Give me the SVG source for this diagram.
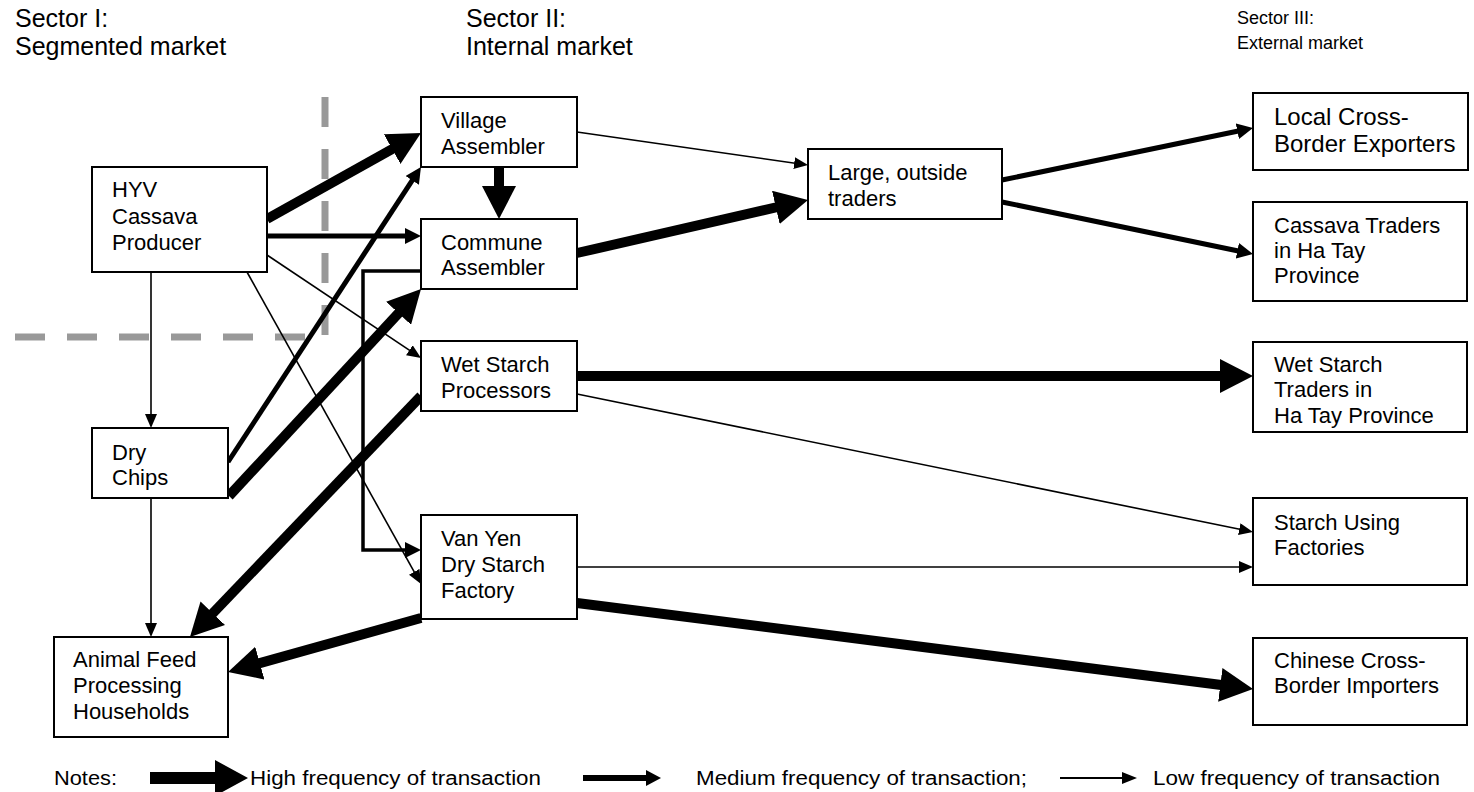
<svg xmlns="http://www.w3.org/2000/svg" width="1474" height="792" viewBox="0 0 1474 792">
<style>
.box{fill:#fff;stroke:#000;stroke-width:2}
.t{font-family:"Liberation Sans",Arial,Helvetica,sans-serif;font-size:22px;fill:#000}
.hdr{font-family:"Liberation Sans",Arial,Helvetica,sans-serif;font-size:25px;fill:#000}
.hdr3{font-family:"Liberation Sans",Arial,Helvetica,sans-serif;font-size:18px;fill:#000}
.leg{font-family:"Liberation Sans",Arial,Helvetica,sans-serif;font-size:20px;fill:#000}
.hi{stroke:#000;stroke-width:10;fill:none;marker-end:url(#hT)}
.md{stroke:#000;stroke-width:5;fill:none;marker-end:url(#hM)}
.lo{stroke:#000;stroke-width:1.6;fill:none;marker-end:url(#hL)}
.dash{stroke:#999;stroke-width:7;fill:none;stroke-dasharray:30 22}
</style>
<defs>
<marker id="hT" markerUnits="userSpaceOnUse" viewBox="0 0 33 34" markerWidth="33" markerHeight="34" refX="13" refY="17" orient="auto"><path d="M0,0 L33,17 L0,34 z" fill="#000"/></marker>
<marker id="hM" markerUnits="userSpaceOnUse" viewBox="0 0 16 16" markerWidth="16" markerHeight="16" refX="6" refY="8" orient="auto"><path d="M0,0 L16,8 L0,16 z" fill="#000"/></marker>
<marker id="hL" markerUnits="userSpaceOnUse" viewBox="0 0 14 12" markerWidth="14" markerHeight="12" refX="8" refY="6" orient="auto"><path d="M0,0 L14,6 L0,12 z" fill="#000"/></marker>
</defs>
<rect width="1474" height="792" fill="#fff"/>

<g id="headers">
<text class="hdr" x="15" y="27">Sector I:</text>
<text class="hdr" x="15" y="55">Segmented market</text>
<text class="hdr" x="466" y="27">Sector II:</text>
<text class="hdr" x="466" y="55">Internal market</text>
<text class="hdr3" x="1237" y="24">Sector III:</text>
<text class="hdr3" x="1237" y="49">External market</text>
</g>

<g id="dividers">
<path class="dash" d="M325,97 V337"/>
<path class="dash" d="M15,337 H325"/>
</g>

<g id="connectors">
<!-- thin -->
<line class="lo" x1="151" y1="272" x2="151" y2="422"/>
<line class="lo" x1="151" y1="498" x2="151" y2="631"/>
<line class="lo" x1="267" y1="255" x2="416" y2="354.7"/>
<line class="lo" x1="247" y1="272" x2="418.1" y2="578.8"/>
<line class="lo" x1="577" y1="132" x2="802.1" y2="164.2"/>
<line class="lo" x1="577" y1="394" x2="1247.1" y2="530.8"/>
<line class="lo" x1="577" y1="567" x2="1247" y2="567"/>
<!-- medium -->
<line class="md" x1="267" y1="236" x2="411" y2="236"/>
<line class="md" x1="228" y1="462" x2="415.5" y2="175.4"/>
<line class="md" x1="1002" y1="180" x2="1243.2" y2="130"/>
<line class="md" x1="1002" y1="202" x2="1243.2" y2="252"/>
<path class="md" style="stroke-width:3.5" d="M421,271 H363 V550 H411"/>
<!-- high -->
<line class="hi" x1="267" y1="219" x2="403.5" y2="142.75"/>
<line class="hi" x1="499" y1="167" x2="499" y2="199"/>
<line class="hi" x1="577" y1="253" x2="788.5" y2="204.5"/>
<line class="hi" x1="229" y1="496" x2="407.4" y2="303.7"/>
<line class="hi" x1="421" y1="396" x2="203.8" y2="622.6"/>
<line class="hi" x1="421" y1="618" x2="247.3" y2="666.6"/>
<line class="hi" x1="577" y1="376" x2="1233" y2="376"/>
<line class="hi" x1="577" y1="603" x2="1233.2" y2="686.5"/>
</g>

<g id="hyv">
<rect class="box" x="92" y="167" width="175" height="105"/>
<text class="t" x="112" y="197">HYV</text>
<text class="t" x="112" y="224">Cassava</text>
<text class="t" x="112" y="250">Producer</text>
</g>
<g id="drychips">
<rect class="box" x="92" y="428" width="136" height="70"/>
<text class="t" x="112" y="460">Dry</text>
<text class="t" x="112" y="485">Chips</text>
</g>
<g id="animalfeed">
<rect class="box" x="54" y="637" width="174" height="100"/>
<text class="t" x="73" y="667">Animal Feed</text>
<text class="t" x="73" y="693">Processing</text>
<text class="t" x="73" y="719">Households</text>
</g>
<g id="village">
<rect class="box" x="421" y="97" width="156" height="70"/>
<text class="t" x="441" y="128">Village</text>
<text class="t" x="441" y="154">Assembler</text>
</g>
<g id="commune">
<rect class="box" x="421" y="219" width="156" height="70"/>
<text class="t" x="441" y="250">Commune</text>
<text class="t" x="441" y="275">Assembler</text>
</g>
<g id="wetstarch">
<rect class="box" x="421" y="341" width="156" height="70"/>
<text class="t" x="441" y="372">Wet Starch</text>
<text class="t" x="441" y="398">Processors</text>
</g>
<g id="vanyen">
<rect class="box" x="421" y="515" width="156" height="104"/>
<text class="t" x="441" y="546">Van Yen</text>
<text class="t" x="441" y="572">Dry Starch</text>
<text class="t" x="441" y="598">Factory</text>
</g>
<g id="large">
<rect class="box" x="808" y="149" width="194" height="70"/>
<text class="t" x="828" y="180">Large, outside</text>
<text class="t" x="828" y="206">traders</text>
</g>
<g id="localexp">
<rect class="box" x="1253" y="93" width="215" height="77"/>
<text class="t" style="font-size:24px" x="1274" y="125">Local Cross-</text>
<text class="t" style="font-size:24px" x="1274" y="152">Border Exporters</text>
</g>
<g id="cassavatraders">
<rect class="box" x="1253" y="202" width="214" height="99"/>
<text class="t" x="1274" y="233">Cassava Traders</text>
<text class="t" x="1274" y="258">in Ha Tay</text>
<text class="t" x="1274" y="283">Province</text>
</g>
<g id="wettraders">
<rect class="box" x="1253" y="342" width="214" height="90"/>
<text class="t" x="1274" y="372">Wet Starch</text>
<text class="t" x="1274" y="397">Traders in</text>
<text class="t" x="1274" y="423">Ha Tay Province</text>
</g>
<g id="starchusing">
<rect class="box" x="1253" y="498" width="214" height="87"/>
<text class="t" x="1274" y="530">Starch Using</text>
<text class="t" x="1274" y="555">Factories</text>
</g>
<g id="chinese">
<rect class="box" x="1253" y="638" width="214" height="87"/>
<text class="t" x="1274" y="668">Chinese Cross-</text>
<text class="t" x="1274" y="693">Border Importers</text>
</g>

<g id="legend">
<text class="leg" x="54" y="785" textLength="63" lengthAdjust="spacingAndGlyphs">Notes:</text>
<polygon points="150,772 215,772 215,760 248,778 215,796 215,784 150,784" fill="#000"/>
<text class="leg" x="250" y="785" textLength="291" lengthAdjust="spacingAndGlyphs">High frequency of transaction</text>
<polygon points="583,775 646,775 646,770 661,778 646,786 646,781 583,781" fill="#000"/>
<text class="leg" x="696" y="785" textLength="331" lengthAdjust="spacingAndGlyphs">Medium frequency of transaction;</text>
<line x1="1060" y1="778" x2="1124" y2="778" stroke="#000" stroke-width="2"/>
<polygon points="1122,772 1137,778 1122,784" fill="#000"/>
<text class="leg" x="1153" y="785" textLength="287" lengthAdjust="spacingAndGlyphs">Low frequency of transaction</text>
</g>
</svg>
